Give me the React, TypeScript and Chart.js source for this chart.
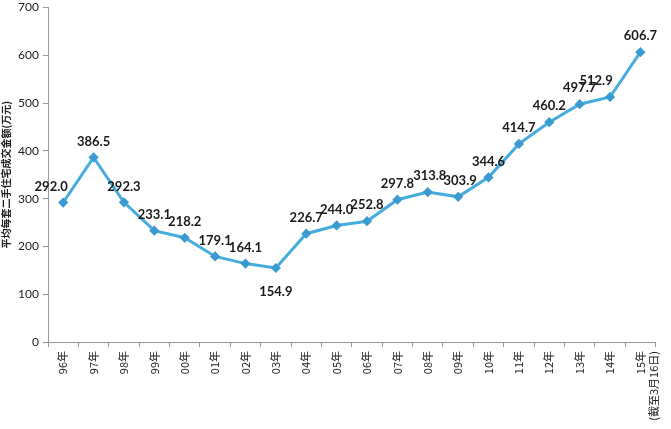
import React, { useEffect, useRef } from "react";
import { Chart, registerables } from "chart.js";

Chart.register(...registerables);

const categories: (string | string[])[] = [
  "96年", "97年", "98年", "99年", "00年", "01年", "02年", "03年", "04年", "05年",
  "06年", "07年", "08年", "09年", "10年", "11年", "12年", "13年", "14年",
  ["15年", "(截至3月16日)"],
];

const values: number[] = [
  292.0, 386.5, 292.3, 233.1, 218.2, 179.1, 164.1, 154.9, 226.7, 244.0,
  252.8, 297.8, 313.8, 303.9, 344.6, 414.7, 460.2, 497.7, 512.9, 606.7,
];

const yTitle = "平均每套二手住宅成交金额(万元)";

const labelsBelow = new Set<number>([7]);
const labelDx: Record<number, number> = { 0: -12, 18: -14, 12: 2, 13: 2 };

const valueLabelPlugin = {
  id: "valueLabels",
  afterDatasetsDraw(chart: any) {
    const ctx = chart.ctx;
    const meta = chart.getDatasetMeta(0);
    ctx.save();
    ctx.font = "bold 13px 'Lato', 'DejaVu Sans', sans-serif";
    ctx.fillStyle = "#1a1a1a";
    ctx.textAlign = "center";
    ctx.textBaseline = "middle";
    meta.data.forEach((pt: any, i: number) => {
      const v = values[i];
      const below = labelsBelow.has(i);
      const dx = labelDx[i] || 0;
      const y = below ? pt.y + 24 : pt.y - 16;
      ctx.fillText(v.toFixed(1), pt.x + dx, y);
    });
    ctx.restore();
  },
};

export default function App() {
  const ref = useRef<HTMLCanvasElement | null>(null);
  useEffect(() => {
    if (!ref.current) return;
    const chart = new Chart(ref.current, {
      type: "line",
      data: {
        labels: categories,
        datasets: [
          {
            data: values,
            borderColor: "#45ACDD",
            borderWidth: 3,
            pointStyle: "rectRot",
            pointRadius: 3,
            pointBackgroundColor: "#3A9BD0",
            pointBorderColor: "#3A9BD0",
            tension: 0,
          },
        ],
      },
      options: {
        responsive: false,
        animation: false,
        maintainAspectRatio: false,
        layout: { padding: { top: 6, right: 6, left: 0, bottom: 0 } },
        plugins: {
          legend: { display: false },
          tooltip: { enabled: false },
        },
        scales: {
          x: {
            offset: true,
            grid: {
              offset: true,
              drawOnChartArea: false,
              drawTicks: true,
              tickLength: 5,
              color: "#999",
            },
            border: { color: "#999", width: 1 },
            ticks: {
              minRotation: 90,
              maxRotation: 90,
              autoSkip: false,
              color: "#222",
              padding: 4,
              font: { size: 11, family: "'Noto Sans CJK SC', 'DejaVu Sans', sans-serif" },
            },
            afterFit: (scale: any) => {
              scale.height = 87;
            },
          },
          y: {
            min: 0,
            max: 700,
            grid: {
              drawOnChartArea: false,
              drawTicks: true,
              tickLength: 5,
              color: "#999",
            },
            border: { color: "#999", width: 1 },
            ticks: {
              stepSize: 100,
              color: "#222",
              padding: 4,
              font: { size: 12, lineHeight: 0.6, family: "'Lato', 'DejaVu Sans', sans-serif" },
            },
            title: {
              display: true,
              text: yTitle,
              color: "#222",
              padding: { top: 0, bottom: 0 },
              font: { size: 10, weight: "bold", family: "'Noto Sans CJK SC', serif" },
            },
            afterFit: (scale: any) => {
              scale.width = 48;
            },
          },
        },
      },
      plugins: [valueLabelPlugin],
    });
    return () => chart.destroy();
  }, []);
  return (
    <div style={{ position: "absolute", left: 0, top: 0, width: 671, height: 429, background: "#fff" }}>
      <canvas ref={ref} width={671} height={429} style={{ display: "block" }} />
    </div>
  );
}
